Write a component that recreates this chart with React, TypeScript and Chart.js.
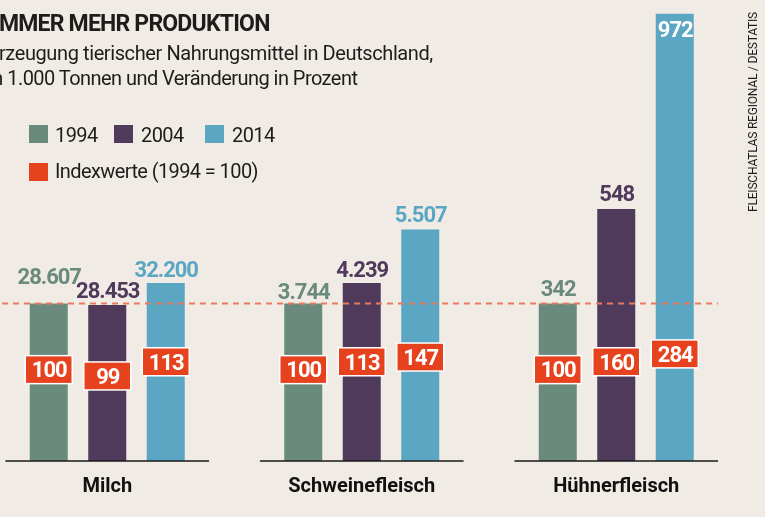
import React, { useEffect, useRef } from "react";
import { Chart, registerables } from "chart.js";

Chart.register(...registerables);

// ---- data ----
const categories = ["Milch", "Schweinefleisch", "Hühnerfleisch"];
const years = ["1994", "2004", "2014"];
// Erzeugung in 1.000 Tonnen
const production1994 = [28607, 3744, 342];
const production2004 = [28453, 4239, 548];
const production2014 = [32200, 5507, 972];
// Indexwerte (1994 = 100)
const index1994 = [100, 100, 100];
const index2004 = [99, 113, 160];
const index2014 = [113, 147, 284];
const referenceIndex = 100;

// ---- styles ----
const FONT = 'Roboto, "Liberation Sans", sans-serif';
const BG = "#f0ebe5";
const barColors = ["#6a8a7d", "#4f3a5c", "#5ba6c3"];
const indexColor = "#e5421d";
const dashColor = "#ea7a5f";
// placement of the index boxes (axis units) and value labels (px lift above bar top)
const indexBoxLevels = [
  [58, 58, 58],
  [54, 63, 63],
  [63, 66, 68],
];
const valueLabelLift = [
  [20, 5, 8],
  [7, 6, 8],
  [6, 7, -23],
];

const productions = [production1994, production2004, production2014];
const indices = [index1994, index2004, index2014];

const fmt = (n: number) => String(n).replace(/\B(?=(\d{3})+(?!\d))/g, ".");

const overlayPlugin = {
  id: "overlay",
  afterDatasetsDraw(chart: any) {
    const ctx = chart.ctx as CanvasRenderingContext2D;
    const xs = chart.scales.x;
    const ys = chart.scales.y;
    const area = chart.chartArea;
    const step = xs.getPixelForValue(1) - xs.getPixelForValue(0);
    const y0 = ys.getPixelForValue(0);
    ctx.save();
    // base lines per group
    ctx.strokeStyle = "#1a1a1a";
    ctx.lineWidth = 1.6;
    categories.forEach((_, i) => {
      const cx = xs.getPixelForValue(i);
      ctx.beginPath();
      ctx.moveTo(cx - 0.4 * step, y0);
      ctx.lineTo(cx + 0.4 * step, y0);
      ctx.stroke();
    });
    // reference dashed line at 100
    const yr = ys.getPixelForValue(referenceIndex);
    ctx.strokeStyle = dashColor;
    ctx.lineWidth = 2;
    ctx.setLineDash([6, 5]);
    ctx.beginPath();
    ctx.moveTo(area.left, yr);
    ctx.lineTo(xs.getPixelForValue(categories.length - 1) + 0.4 * step, yr);
    ctx.stroke();
    ctx.setLineDash([]);

    // labels
    ctx.font = `bold 22px ${FONT}`;
    (ctx as any).letterSpacing = "-1px";
    ctx.textAlign = "center";
    ctx.textBaseline = "alphabetic";
    chart.data.datasets.forEach((ds: any, di: number) => {
      const meta = chart.getDatasetMeta(di);
      meta.data.forEach((bar: any, i: number) => {
        const cx = bar.x;
        const top = bar.y;
        const lift = valueLabelLift[di][i];
        // value label
        ctx.fillStyle = lift < 0 ? "#ffffff" : barColors[di];
        ctx.fillText(fmt(productions[di][i]), cx + 0.5, top - lift);
        // index box
        const cy = ys.getPixelForValue(indexBoxLevels[di][i]);
        const bw = 47;
        const bh = 28;
        ctx.fillStyle = indexColor;
        ctx.fillRect(cx - bw / 2, cy - bh / 2, bw, bh);
        ctx.strokeStyle = "#ffffff";
        ctx.lineWidth = 1.5;
        ctx.strokeRect(cx - bw / 2, cy - bh / 2, bw, bh);
        ctx.fillStyle = "#ffffff";
        ctx.fillText(String(indices[di][i]), cx + 0.5, cy + 7.8);
      });
    });
    ctx.restore();
  },
};

export default function App() {
  const canvasRef = useRef<HTMLCanvasElement | null>(null);

  useEffect(() => {
    if (!canvasRef.current) return;
    const chart = new Chart(canvasRef.current, {
      type: "bar",
      data: {
        labels: categories,
        datasets: years.map((y, k) => ({
          label: y,
          data: indices[k],
          backgroundColor: barColors[k],
          borderWidth: 0,
          categoryPercentage: 0.6896,
          barPercentage: 0.6496,
        })),
      },
      options: {
        animation: false,
        responsive: false,
        devicePixelRatio: 1,
        layout: { padding: { left: 20, right: 21.5, top: 4.25, bottom: 0 } },
        plugins: { legend: { display: false }, tooltip: { enabled: false } },
        scales: {
          x: {
            grid: { display: false, drawTicks: false },
            border: { display: false },
            ticks: {
              color: "#111111",
              font: { family: FONT, size: 20, weight: "bold" },
              padding: 14,
            },
            afterFit: (scale: any) => {
              scale.height = 56;
            },
          },
          y: { display: false, min: 0, max: 290 },
        },
      },
      plugins: [overlayPlugin],
    });
    return () => chart.destroy();
  }, []);

  const text: React.CSSProperties = {
    position: "absolute",
    whiteSpace: "nowrap",
    fontFamily: FONT,
    color: "#1d1d1b",
    lineHeight: "20px",
    fontSize: 20,
    letterSpacing: "-0.4px",
  };
  const sq = (bg: string, left: number, top: number): React.CSSProperties => ({
    position: "absolute",
    left,
    top,
    width: 19,
    height: 18,
    background: bg,
  });
  const legendText: React.CSSProperties = { ...text, letterSpacing: "-0.6px" };

  return (
    <div
      style={{
        position: "fixed",
        left: 0,
        top: 0,
        width: 765,
        height: 517,
        overflow: "hidden",
        background: BG,
      }}
    >
      <canvas
        ref={canvasRef}
        width={805}
        height={517}
        style={{ position: "absolute", left: -40, top: 0, width: 805, height: 517 }}
      />
      <div
        style={{
          ...text,
          left: -7,
          top: 12.3,
          fontSize: 23,
          lineHeight: "23px",
          fontWeight: 700,
          letterSpacing: "-0.8px",
        }}
      >
        IMMER MEHR PRODUKTION
      </div>
      <div style={{ ...text, left: -12, top: 42.5 }}>
        Erzeugung tierischer Nahrungsmittel in Deutschland,
      </div>
      <div style={{ ...text, left: -12, top: 67.5, letterSpacing: "-0.55px" }}>
        in 1.000 Tonnen und Veränderung in Prozent
      </div>

      <div style={sq(barColors[0], 29, 125)} />
      <div style={{ ...legendText, left: 55, top: 125 }}>{years[0]}</div>
      <div style={sq(barColors[1], 114, 125)} />
      <div style={{ ...legendText, left: 141, top: 125 }}>{years[1]}</div>
      <div style={sq(barColors[2], 205, 125)} />
      <div style={{ ...legendText, left: 232, top: 125 }}>{years[2]}</div>
      <div style={sq(indexColor, 29, 163)} />
      <div style={{ ...legendText, left: 55, top: 160.5 }}>Indexwerte (1994 = 100)</div>

      <div
        style={{
          position: "absolute",
          left: 747,
          top: 13,
          height: 199,
          width: 13,
          writingMode: "vertical-rl",
          transform: "rotate(180deg)",
          fontFamily: FONT,
          fontSize: 12,
          lineHeight: "13px",
          letterSpacing: "-0.2px",
          color: "#1f1f1f",
          whiteSpace: "nowrap",
        }}
      >
        FLEISCHATLAS REGIONAL / DESTATIS
      </div>
    </div>
  );
}
